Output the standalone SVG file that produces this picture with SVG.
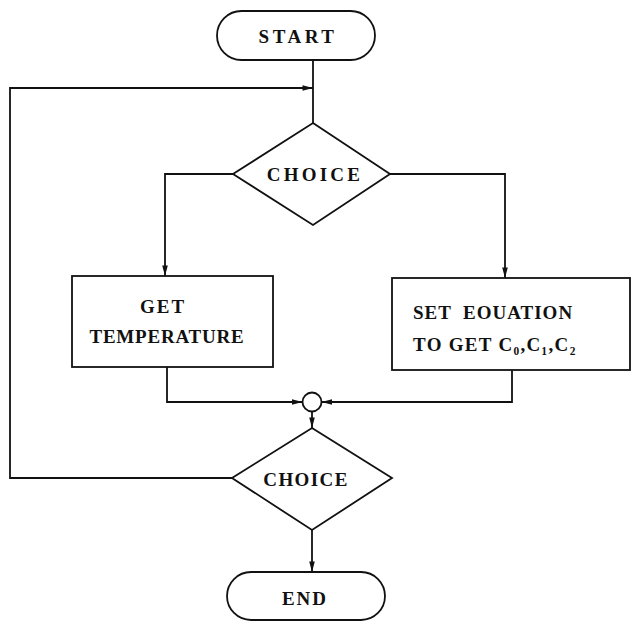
<svg xmlns="http://www.w3.org/2000/svg" width="632" height="627" viewBox="0 0 632 627">
<defs>
<style>
.s{fill:none;stroke:#111;stroke-width:1.8;stroke-linejoin:miter}
.n{fill:#fff;stroke:#111;stroke-width:1.8}
.t{font-family:"Liberation Serif","Times New Roman",serif;font-weight:bold;font-size:19px;fill:#111;letter-spacing:0.8px}
.c{text-anchor:middle;dominant-baseline:central}
</style>
<marker id="ah" viewBox="0 0 12 8" refX="12" refY="4" markerWidth="12" markerHeight="7" markerUnits="userSpaceOnUse" orient="auto">
<path d="M0,0.8 L12,4 L0,7.2 Z" fill="#111"/>
</marker>
</defs>
<g id="connectors">
<path class="s" d="M313,60 L313,123"/>
<path class="s" d="M232,478 L10,478 L10,88 L313,88" marker-end="url(#ah)"/>
<path class="s" d="M233,174 L165,174 L165,276" marker-end="url(#ah)"/>
<path class="s" d="M390,174 L505,174 L505,278" marker-end="url(#ah)"/>
<path class="s" d="M167,367 L167,402 L302.5,402" marker-end="url(#ah)"/>
<path class="s" d="M512,370 L512,402 L321.5,402" marker-end="url(#ah)"/>
<path class="s" d="M312,411.5 L312,428" marker-end="url(#ah)"/>
<path class="s" d="M312,530 L312,572" marker-end="url(#ah)"/>
</g>
<g id="start">
<rect class="n" x="217" y="11" width="158" height="49" rx="24.5"/>
<text class="t c" x="298" y="36" style="letter-spacing:3.5px">START</text>
</g>
<g id="choice1">
<polygon class="n" points="313,123 390,174 313,225 233,174"/>
<text class="t c" x="315" y="174" style="letter-spacing:3.2px">CHOICE</text>
</g>
<g id="get-temperature">
<rect class="n" x="72" y="276" width="201" height="91"/>
<text class="t c" x="163" y="306" style="letter-spacing:2px">GET</text>
<text class="t c" x="167" y="336">TEMPERATURE</text>
</g>
<g id="set-equation">
<rect class="n" x="392" y="278" width="238" height="92"/>
<text class="t" x="413" y="312" dominant-baseline="central" xml:space="preserve" style="letter-spacing:1px">SET  EOUATION</text>
<text class="t" x="413" y="344" dominant-baseline="central" style="letter-spacing:1.3px">TO GET C₀,C₁,C₂</text>
</g>
<g id="junction">
<circle class="n" cx="312" cy="402" r="9.5"/>
</g>
<g id="choice2">
<polygon class="n" points="312,428 392,478 312,530 232,478"/>
<text class="t c" x="306" y="479" style="letter-spacing:1.4px">CHOICE</text>
</g>
<g id="end">
<rect class="n" x="227" y="572" width="158" height="48" rx="24"/>
<text class="t c" x="305" y="598" style="letter-spacing:2px">END</text>
</g>
</svg>
